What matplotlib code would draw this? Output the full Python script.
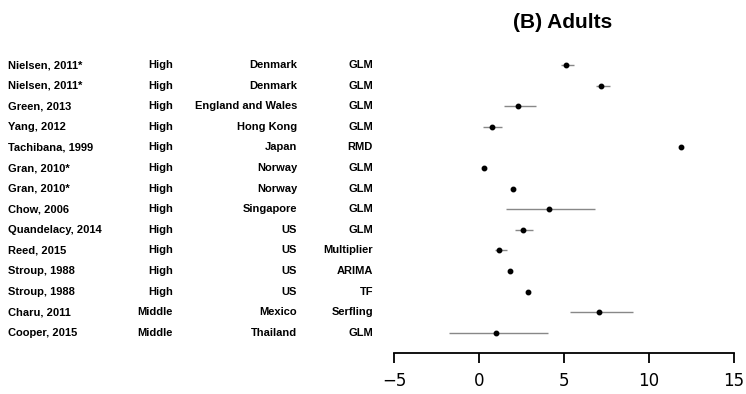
import matplotlib.pyplot as plt
from matplotlib.transforms import blended_transform_factory

# Data
studies = ['Nielsen, 2011*', 'Nielsen, 2011*', 'Green, 2013', 'Yang, 2012', 'Tachibana, 1999',
           'Gran, 2010*', 'Gran, 2010*', 'Chow, 2006', 'Quandelacy, 2014', 'Reed, 2015',
           'Stroup, 1988', 'Stroup, 1988', 'Charu, 2011', 'Cooper, 2015']
income = ['High'] * 12 + ['Middle', 'Middle']
country = ['Denmark', 'Denmark', 'England and Wales', 'Hong Kong', 'Japan', 'Norway', 'Norway',
           'Singapore', 'US', 'US', 'US', 'US', 'Mexico', 'Thailand']
method = ['GLM', 'GLM', 'GLM', 'GLM', 'RMD', 'GLM', 'GLM', 'GLM', 'GLM', 'Multiplier',
          'ARIMA', 'TF', 'Serfling', 'GLM']
est = [5.1, 7.2, 2.3, 0.75, 11.86, 0.31, 2.0, 4.14, 2.6, 1.16, 1.8, 2.88, 7.04, 1.0]
lo = [4.8, 6.9, 1.45, 0.24, 11.86, 0.31, 2.0, 1.59, 2.12, 0.96, 1.8, 2.88, 5.37, -1.75]
hi = [5.6, 7.7, 3.35, 1.37, 11.86, 0.31, 2.0, 6.82, 3.2, 1.63, 1.8, 2.88, 9.06, 4.06]

W, H = 746, 394
fig = plt.figure(figsize=(W / 100, H / 100), dpi=100)
ax = fig.add_axes([394 / W, (H - 353) / H, (734 - 394) / W, (353 - 55) / H])

n = len(studies)
ypos = [n - i for i in range(n)]

ax.hlines(ypos, lo, hi, color='#888888', lw=1)
ax.plot(est, ypos, 'o', color='black', ms=3.2)

ax.set_xlim(-5, 15)
ax.set_ylim(0.02, 14.49)
for s in ['top', 'right', 'left']:
    ax.spines[s].set_visible(False)
ax.spines['bottom'].set_linewidth(1.3)
ax.set_yticks([])
ax.set_xticks([-5, 0, 5, 10, 15])
ax.set_xticklabels(['\u22125', '0', '5', '10', '15'])
ax.tick_params(axis='x', length=7, width=1.3, labelsize=12, pad=7)

fnt = dict(family='Liberation Sans', fontsize=8, fontweight='bold', va='center')
tr = blended_transform_factory(fig.transFigure, ax.transData)
for i in range(n):
    y = ypos[i]
    ax.text(8 / W, y, studies[i], transform=tr, ha='left', **fnt)
    ax.text(173 / W, y, income[i], transform=tr, ha='right', **fnt)
    ax.text(297 / W, y, country[i], transform=tr, ha='right', **fnt)
    ax.text(373 / W, y, method[i], transform=tr, ha='right', **fnt)

fig.text(563 / W, 1 - 22 / H, '(B) Adults', ha='center', va='center',
         family='Liberation Sans', fontsize=15, fontweight='bold')

fig.savefig('out.png', dpi=100)
